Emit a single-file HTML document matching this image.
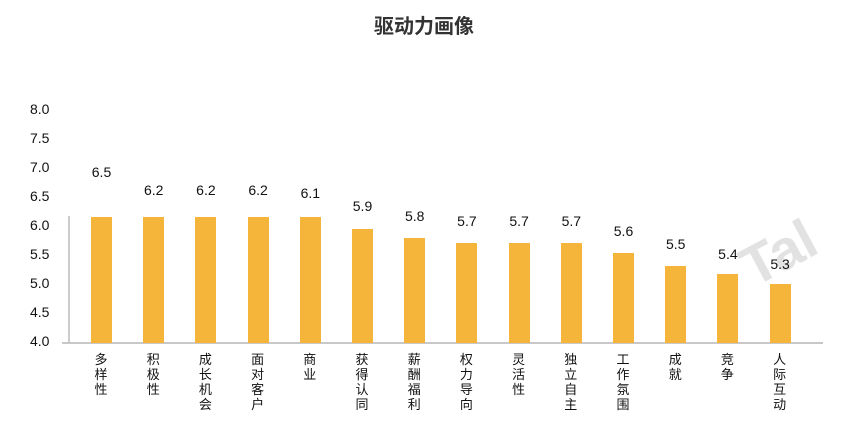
<!DOCTYPE html>
<html><head><meta charset="utf-8"><style>
body{margin:0;background:#fff;width:848px;height:421px;overflow:hidden;position:relative;font-family:"Liberation Sans","Noto Sans CJK SC",sans-serif;color:#222}
.t{position:absolute;left:0;width:848px;top:10px;text-align:center;font-size:20px;font-weight:bold;font-family:"Noto Sans CJK SC",sans-serif;color:#333}
.y{position:absolute;left:30px;font-size:14px;width:32px;color:#111}
.b{position:absolute;width:21px;background:#F4B53A;bottom:78px}
.v{position:absolute;width:40px;text-align:center;font-size:14px;color:#111}
.l{position:absolute;top:351px;width:14px;font-size:13px;line-height:15px;font-family:"Noto Sans CJK SC",sans-serif;color:#111}
</style></head><body>
<div class="t">驱动力画像</div>
<div style="position:absolute;left:700px;top:180px;width:123px;height:120px;overflow:hidden">
<div style="position:absolute;left:40px;top:40px;font-size:56px;color:#e2e2e2;transform:rotate(-28deg);font-weight:bold">Tal</div></div>
<div style="position:absolute;left:68px;top:216px;width:2px;height:127px;background:#ccc"></div>
<div style="position:absolute;left:62px;top:342px;width:761px;height:2px;background:#c8c8c8"></div>
<div id="c"></div>
<script>
var ys=["8.0","7.5","7.0","6.5","6.0","5.5","5.0","4.5","4.0"];
var h="";
ys.forEach(function(s,i){h+='<div class="y" style="top:'+(101+i*29)+'px">'+s+'</div>';});
var d=[["多样性",6.5,217,170],["积极性",6.2,217,188],["成长机会",6.2,217,188],["面对客户",6.2,217,188],["商业",6.1,217,191],["获得认同",5.9,229,204],["薪酬福利",5.8,238,214],["权力导向",5.7,243,219],["灵活性",5.7,243,219],["独立自主",5.7,243,219],["工作氛围",5.6,253,229],["成就",5.5,266,242],["竞争",5.4,274,252],["人际互动",5.3,284,262]];
d.forEach(function(r,i){var x=91+i*52.2;
h+='<div class="b" style="left:'+x+'px;top:'+r[2]+'px"></div>';
h+='<div class="v" style="left:'+(x-9.5)+'px;top:'+(r[3]-6)+'px">'+r[1].toFixed(1)+'</div>';
h+='<div class="l" style="left:'+(x+3.5)+'px">'+r[0].split("").join("<br>")+'</div>';});
document.getElementById("c").innerHTML=h;
</script>
</body></html>
